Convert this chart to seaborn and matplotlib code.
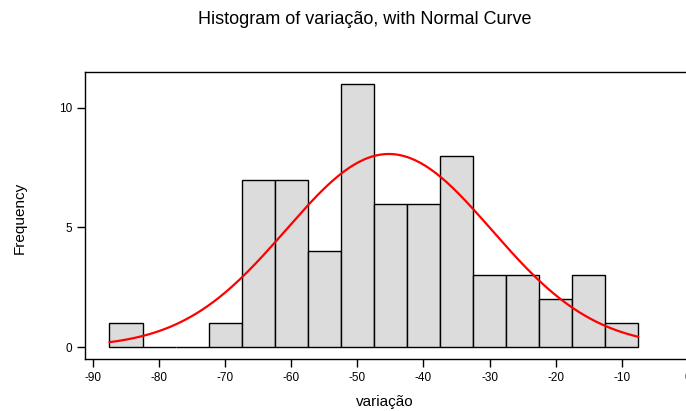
import numpy as np
import pandas as pd
import matplotlib
matplotlib.use("Agg")
import matplotlib.pyplot as plt
import seaborn as sns

# histogram bins (width 5) and counts
bin_centers = [-85, -80, -75, -70, -65, -60, -55, -50, -45, -40, -35, -30, -25, -20, -15, -10]
counts = [1, 0, 0, 1, 7, 7, 4, 11, 6, 6, 8, 3, 3, 2, 3, 1]
x_ticks = [-90, -80, -70, -60, -50, -40, -30, -20, -10, 0]
y_ticks = [0, 5, 10]

sns.set_style("white")
plt.rcParams['font.family'] = ['Liberation Sans', 'DejaVu Sans']
plt.rcParams['axes.unicode_minus'] = False
plt.rcParams['text.color'] = 'black'
plt.rcParams['xtick.color'] = 'black'
plt.rcParams['ytick.color'] = 'black'

df = pd.DataFrame({'variacao': bin_centers, 'n': counts})

fig = plt.figure(figsize=(6.86, 4.11), dpi=100)
W, H = 686, 411
# plot box: left 85px, top 72px, bottom 359px, runs past right edge
ax = fig.add_axes([85 / W, 1 - 359 / H, 620 / W, (359 - 72) / H])

sns.histplot(data=df, x='variacao', weights='n', binwidth=5, binrange=(-87.5, -7.5),
             ax=ax, color='#dcdcdc', edgecolor='black', linewidth=1.0, alpha=1.0)

# normal curve from the binned data
n_tot = sum(counts)
mu = np.average(bin_centers, weights=counts)
sd = np.sqrt(np.average((np.array(bin_centers) - mu) ** 2, weights=counts))
xs = np.linspace(-87.5, -7.5, 200)
ys = n_tot * 5 / (sd * np.sqrt(2 * np.pi)) * np.exp(-0.5 * ((xs - mu) / sd) ** 2)
sns.lineplot(x=xs, y=ys, ax=ax, color='red', linewidth=1.6)

ax.set_xlim(-91.2, -91.2 + 620 / 6.61)
ax.set_ylim(-0.5, 11.5)
ax.set_xticks(x_ticks)
ax.set_yticks(y_ticks)
ax.tick_params(axis='both', direction='out', length=6, width=1, labelsize=8.5,
               bottom=True, left=True, color='black', labelcolor='black')
for s in ['left', 'top', 'bottom']:
    ax.spines[s].set_color('black')
    ax.spines[s].set_linewidth(1.0)
ax.spines['right'].set_visible(False)
ax.set_xlabel('')
ax.set_ylabel('')

fig.text(365 / W, 1 - 20 / H, 'Histogram of variação, with Normal Curve',
         ha='center', va='center', fontsize=13, color='black')
fig.text(385 / W, 1 - 402 / H, 'variação', ha='center', va='center',
         fontsize=11, color='black')
fig.text(20 / W, 1 - 218 / H, 'Frequency', ha='center', va='center',
         fontsize=11, rotation=90, color='black')

fig.savefig('out.png', dpi=100)
